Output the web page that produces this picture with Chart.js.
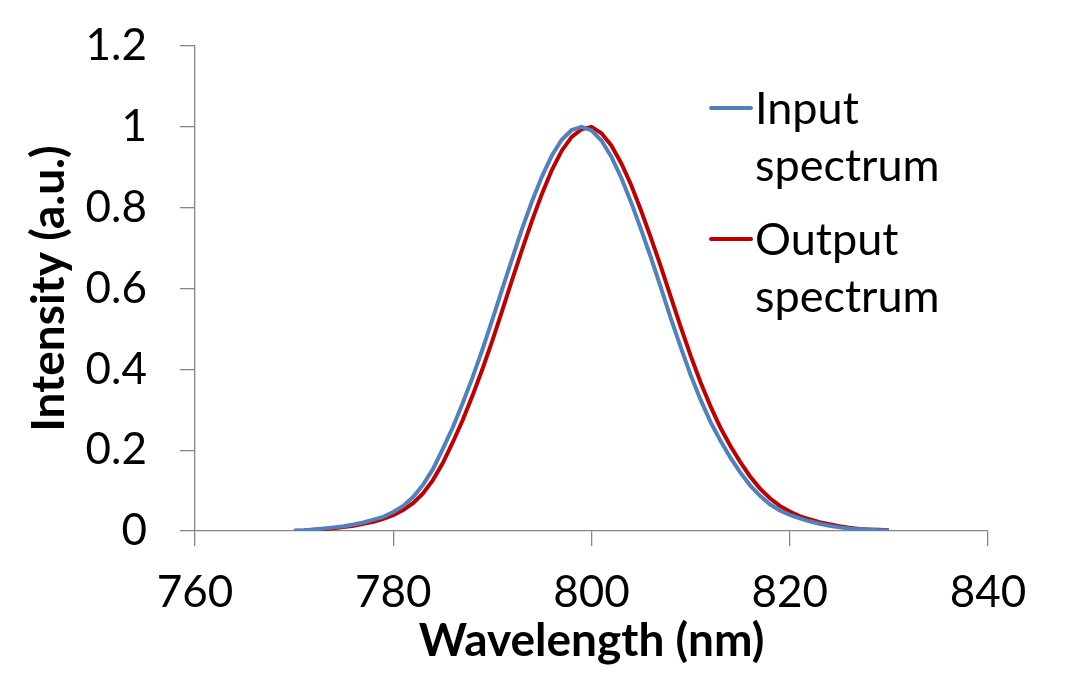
<!DOCTYPE html>
<html>
<head>
<meta charset="utf-8">
<script src="https://cdn.jsdelivr.net/npm/chart.js@4.4.1/dist/chart.umd.min.js"></script>
<style>
  html, body { margin: 0; padding: 0; background: #fff; }
  #wrap { width: 1083px; height: 674px; }
</style>
</head>
<body>
<div id="wrap"><canvas id="spectrumChart" width="1083" height="674"></canvas></div>
<script>
// wavelength samples (nm)
const wavelengths = [
    770, 771, 772, 773, 774, 775, 776, 777, 778, 779,
    780, 781, 782, 783, 784, 785, 786, 787, 788, 789,
    790, 791, 792, 793, 794, 795, 796, 797, 798, 799,
    800, 801, 802, 803, 804, 805, 806, 807, 808, 809,
    810, 811, 812, 813, 814, 815, 816, 817, 818, 819,
    820, 821, 822, 823, 824, 825, 826, 827, 828, 829,
    830
];

const inputSpectrum = [
    0.001, 0.002, 0.004, 0.006, 0.009, 0.012, 0.016, 0.021, 0.028, 0.035,
    0.047, 0.062, 0.084, 0.114, 0.153, 0.203, 0.256, 0.316, 0.380, 0.449,
    0.523, 0.599, 0.674, 0.748, 0.816, 0.877, 0.929, 0.968, 0.992, 1.000,
    0.991, 0.966, 0.926, 0.874, 0.813, 0.746, 0.676, 0.602, 0.526, 0.455,
    0.386, 0.325, 0.270, 0.224, 0.182, 0.145, 0.113, 0.087, 0.066, 0.051,
    0.040, 0.031, 0.024, 0.018, 0.013, 0.009, 0.006, 0.004, 0.003, 0.002,
    0.001
];

const outputSpectrum = [
    0.000, 0.001, 0.003, 0.005, 0.007, 0.010, 0.013, 0.018, 0.023, 0.030,
    0.039, 0.052, 0.069, 0.093, 0.126, 0.168, 0.219, 0.274, 0.335, 0.401,
    0.471, 0.546, 0.622, 0.696, 0.768, 0.834, 0.893, 0.941, 0.975, 0.994,
    1.000, 0.984, 0.954, 0.910, 0.856, 0.793, 0.725, 0.654, 0.579, 0.505,
    0.434, 0.368, 0.309, 0.256, 0.211, 0.171, 0.135, 0.105, 0.081, 0.062,
    0.048, 0.037, 0.029, 0.022, 0.017, 0.012, 0.008, 0.005, 0.004, 0.003,
    0.002
];

const seriesLabels = [['Input', 'spectrum'], ['Output', 'spectrum']];
const seriesColors = ['#4F81BD', '#C00000'];

const yTicks = [0, 0.2, 0.4, 0.6, 0.8, 1, 1.2];
const xTicks = [760, 780, 800, 820, 840];

const FONT = 'Lato, "Open Sans", sans-serif';
const AXIS_GREY = '#868686';

function toPoints(values) {
    return values.map(function (v, i) { return { x: wavelengths[i], y: v }; });
}

// legend drawn inside the plot, labels wrap on two lines
const sideLegend = {
    id: 'sideLegend',
    afterDatasetsDraw: function (chart) {
        const ctx = chart.ctx;
        const rows = [108, 239];
        ctx.save();
        ctx.font = '45px ' + FONT;
        ctx.fillStyle = '#000';
        ctx.textBaseline = 'alphabetic';
        ctx.textAlign = 'left';
        chart.data.datasets.forEach(function (ds, i) {
            const y = rows[i];
            ctx.strokeStyle = ds.borderColor;
            ctx.lineWidth = 4;
            ctx.lineCap = 'round';
            ctx.beginPath();
            ctx.moveTo(711, y);
            ctx.lineTo(751, y);
            ctx.stroke();
            ds.label.forEach(function (line, j) {
                ctx.fillText(line, 755, y + 16 + j * 57);
            });
        });
        ctx.restore();
    }
};

const data = {
    datasets: [
        {
            label: seriesLabels[0],
            data: toPoints(inputSpectrum),
            borderColor: seriesColors[0],
            borderWidth: 4,
            pointRadius: 0,
            tension: 0,
            fill: false
        },
        {
            label: seriesLabels[1],
            data: toPoints(outputSpectrum),
            borderColor: seriesColors[1],
            borderWidth: 4,
            pointRadius: 0,
            tension: 0,
            fill: false
        }
    ]
};

const config = {
    type: 'line',
    data: data,
    options: {
        responsive: false,
        animation: false,
        devicePixelRatio: 1,
        layout: { padding: { left: 0, right: 95, top: 46, bottom: 0 } },
        plugins: {
            legend: { display: false },
            tooltip: { enabled: false }
        },
        scales: {
            x: {
                type: 'linear',
                min: 760,
                max: 840,
                afterFit: function (scale) { scale.height = 143; },
                afterBuildTicks: function (scale) {
                    scale.ticks = xTicks.map(function (v) { return { value: v }; });
                },
                ticks: {
                    color: '#000',
                    padding: 20,
                    font: { family: FONT, size: 44 },
                    maxRotation: 0
                },
                grid: {
                    drawOnChartArea: false,
                    drawTicks: true,
                    tickLength: 15,
                    color: AXIS_GREY,
                    lineWidth: 1.3
                },
                border: { color: AXIS_GREY, width: 1.3 },
                title: {
                    display: true,
                    text: 'Wavelength (nm)',
                    color: '#000',
                    font: { family: FONT, size: 46, weight: 'bold' },
                    padding: { top: 0, bottom: 5 }
                }
            },
            y: {
                min: 0,
                max: 1.2,
                afterFit: function (scale) {
                    scale.width = 195;
                    scale.paddingTop = 0;
                    scale.paddingBottom = 0;
                },
                afterBuildTicks: function (scale) {
                    scale.ticks = yTicks.map(function (v) { return { value: v }; });
                },
                ticks: {
                    color: '#000',
                    padding: 33,
                    font: { family: FONT, size: 44 },
                    callback: function (v) { return String(Number(v.toFixed(1))); }
                },
                grid: {
                    drawOnChartArea: false,
                    drawTicks: true,
                    tickLength: 15,
                    color: AXIS_GREY,
                    lineWidth: 1.3
                },
                border: { color: AXIS_GREY, width: 1.3 },
                title: {
                    display: true,
                    text: 'Intensity (a.u.)',
                    color: '#000',
                    font: { family: FONT, size: 46, weight: 'bold' },
                    padding: { top: 22, bottom: 0 }
                }
            }
        }
    },
    plugins: [sideLegend]
};

const spectrumChart = new Chart(document.getElementById('spectrumChart'), config);
</script>
</body>
</html>
